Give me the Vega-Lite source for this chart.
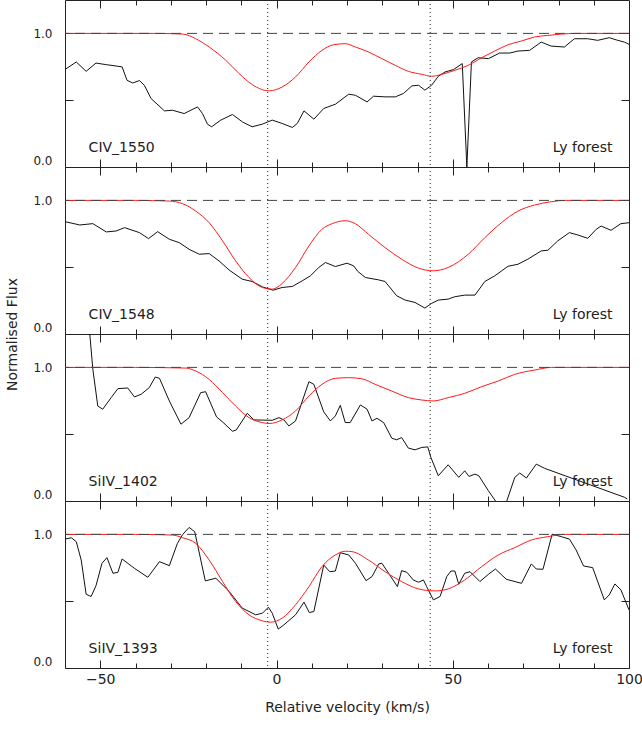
{
  "$schema": "https://vega.github.io/schema/vega-lite/v6.json",
  "padding": {"left": 4, "top": -1, "right": 2, "bottom": 5},
  "spacing": 0,
  "bounds": "flush",
  "config": {
    "view": {"stroke": "#222", "strokeWidth": 1},
    "axis": {"domain": false, "grid": false, "labelFont": "DejaVu Sans", "titleFont": "DejaVu Sans", "labelColor": "#222", "titleColor": "#222", "tickColor": "#222", "titleFontWeight": "normal", "tickWidth": 1}
  },
  "datasets": {
    "ref": [{"flux": 1.0}],
    "components": [{"velocity": -2.5}, {"velocity": 43.6}],
    "labels": [
      {"panel": "CIV_1550", "ion": "CIV_1550", "region": "Ly forest"},
      {"panel": "CIV_1548", "ion": "CIV_1548", "region": "Ly forest"},
      {"panel": "SiIV_1402", "ion": "SiIV_1402", "region": "Ly forest"},
      {"panel": "SiIV_1393", "ion": "SiIV_1393", "region": "Ly forest"}
    ],
    "spectra": [
      {"panel":"CIV_1550","series":"obs","velocity":-60,"flux":0.73},
      {"panel":"CIV_1550","series":"obs","velocity":-56.8,"flux":0.786},
      {"panel":"CIV_1550","series":"obs","velocity":-54.0,"flux":0.716},
      {"panel":"CIV_1550","series":"obs","velocity":-51.2,"flux":0.778},
      {"panel":"CIV_1550","series":"obs","velocity":-48.3,"flux":0.766},
      {"panel":"CIV_1550","series":"obs","velocity":-45.5,"flux":0.756},
      {"panel":"CIV_1550","series":"obs","velocity":-43.8,"flux":0.749},
      {"panel":"CIV_1550","series":"obs","velocity":-42.4,"flux":0.649},
      {"panel":"CIV_1550","series":"obs","velocity":-40.8,"flux":0.629},
      {"panel":"CIV_1550","series":"obs","velocity":-38.9,"flux":0.647},
      {"panel":"CIV_1550","series":"obs","velocity":-37.5,"flux":0.612},
      {"panel":"CIV_1550","series":"obs","velocity":-35.6,"flux":0.513},
      {"panel":"CIV_1550","series":"obs","velocity":-31.8,"flux":0.42},
      {"panel":"CIV_1550","series":"obs","velocity":-29.5,"flux":0.425},
      {"panel":"CIV_1550","series":"obs","velocity":-26.2,"flux":0.4},
      {"panel":"CIV_1550","series":"obs","velocity":-22.4,"flux":0.45},
      {"panel":"CIV_1550","series":"obs","velocity":-21.0,"flux":0.4},
      {"panel":"CIV_1550","series":"obs","velocity":-19.6,"flux":0.321},
      {"panel":"CIV_1550","series":"obs","velocity":-18.4,"flux":0.301},
      {"panel":"CIV_1550","series":"obs","velocity":-15.8,"flux":0.351},
      {"panel":"CIV_1550","series":"obs","velocity":-12.5,"flux":0.393},
      {"panel":"CIV_1550","series":"obs","velocity":-9.7,"flux":0.338},
      {"panel":"CIV_1550","series":"obs","velocity":-6.9,"flux":0.301},
      {"panel":"CIV_1550","series":"obs","velocity":-4.0,"flux":0.321},
      {"panel":"CIV_1550","series":"obs","velocity":-1.2,"flux":0.351},
      {"panel":"CIV_1550","series":"obs","velocity":1.6,"flux":0.326},
      {"panel":"CIV_1550","series":"obs","velocity":4.5,"flux":0.296},
      {"panel":"CIV_1550","series":"obs","velocity":5.9,"flux":0.326},
      {"panel":"CIV_1550","series":"obs","velocity":7.8,"flux":0.42},
      {"panel":"CIV_1550","series":"obs","velocity":10.6,"flux":0.358},
      {"panel":"CIV_1550","series":"obs","velocity":13.4,"flux":0.438},
      {"panel":"CIV_1550","series":"obs","velocity":16.7,"flux":0.47},
      {"panel":"CIV_1550","series":"obs","velocity":20.5,"flux":0.545},
      {"panel":"CIV_1550","series":"obs","velocity":22.4,"flux":0.537},
      {"panel":"CIV_1550","series":"obs","velocity":25.7,"flux":0.487},
      {"panel":"CIV_1550","series":"obs","velocity":27.5,"flux":0.53},
      {"panel":"CIV_1550","series":"obs","velocity":30.8,"flux":0.525},
      {"panel":"CIV_1550","series":"obs","velocity":33.7,"flux":0.525},
      {"panel":"CIV_1550","series":"obs","velocity":36.0,"flux":0.55},
      {"panel":"CIV_1550","series":"obs","velocity":38.4,"flux":0.607},
      {"panel":"CIV_1550","series":"obs","velocity":40.3,"flux":0.612},
      {"panel":"CIV_1550","series":"obs","velocity":42.1,"flux":0.575},
      {"panel":"CIV_1550","series":"obs","velocity":44.0,"flux":0.612},
      {"panel":"CIV_1550","series":"obs","velocity":45.9,"flux":0.679},
      {"panel":"CIV_1550","series":"obs","velocity":47.8,"flux":0.711},
      {"panel":"CIV_1550","series":"obs","velocity":50.2,"flux":0.729},
      {"panel":"CIV_1550","series":"obs","velocity":52.7,"flux":0.774},
      {"panel":"CIV_1550","series":"obs","velocity":54.0,"flux":0.0},
      {"panel":"CIV_1550","series":"obs","velocity":55.3,"flux":0.786},
      {"panel":"CIV_1550","series":"obs","velocity":57.2,"flux":0.818},
      {"panel":"CIV_1550","series":"obs","velocity":60.1,"flux":0.811},
      {"panel":"CIV_1550","series":"obs","velocity":63.3,"flux":0.853},
      {"panel":"CIV_1550","series":"obs","velocity":66.2,"flux":0.853},
      {"panel":"CIV_1550","series":"obs","velocity":68.5,"flux":0.868},
      {"panel":"CIV_1550","series":"obs","velocity":71.8,"flux":0.873},
      {"panel":"CIV_1550","series":"obs","velocity":75.1,"flux":0.935},
      {"panel":"CIV_1550","series":"obs","velocity":77.9,"flux":0.905},
      {"panel":"CIV_1550","series":"obs","velocity":81.7,"flux":0.898},
      {"panel":"CIV_1550","series":"obs","velocity":84.5,"flux":0.96},
      {"panel":"CIV_1550","series":"obs","velocity":88.3,"flux":0.96},
      {"panel":"CIV_1550","series":"obs","velocity":91.1,"flux":0.948},
      {"panel":"CIV_1550","series":"obs","velocity":94.4,"flux":0.968},
      {"panel":"CIV_1550","series":"obs","velocity":96.8,"flux":0.948},
      {"panel":"CIV_1550","series":"obs","velocity":98.7,"flux":0.935},
      {"panel":"CIV_1550","series":"obs","velocity":100,"flux":0.918},
      {"panel":"CIV_1550","series":"model","velocity":-60,"flux":1.0},
      {"panel":"CIV_1550","series":"model","velocity":-45,"flux":1.0},
      {"panel":"CIV_1550","series":"model","velocity":-35,"flux":1.0},
      {"panel":"CIV_1550","series":"model","velocity":-26.6,"flux":0.995},
      {"panel":"CIV_1550","series":"model","velocity":-22.9,"flux":0.96},
      {"panel":"CIV_1550","series":"model","velocity":-19.1,"flux":0.898},
      {"panel":"CIV_1550","series":"model","velocity":-14.4,"flux":0.799},
      {"panel":"CIV_1550","series":"model","velocity":-10.6,"flux":0.699},
      {"panel":"CIV_1550","series":"model","velocity":-6.9,"flux":0.617},
      {"panel":"CIV_1550","series":"model","velocity":-2.1,"flux":0.57},
      {"panel":"CIV_1550","series":"model","velocity":1.6,"flux":0.599},
      {"panel":"CIV_1550","series":"model","velocity":5.4,"flux":0.674},
      {"panel":"CIV_1550","series":"model","velocity":9.2,"flux":0.786},
      {"panel":"CIV_1550","series":"model","velocity":12.9,"flux":0.873},
      {"panel":"CIV_1550","series":"model","velocity":16.2,"flux":0.915},
      {"panel":"CIV_1550","series":"model","velocity":19.5,"flux":0.923},
      {"panel":"CIV_1550","series":"model","velocity":22.4,"flux":0.898},
      {"panel":"CIV_1550","series":"model","velocity":26.1,"flux":0.861},
      {"panel":"CIV_1550","series":"model","velocity":29.9,"flux":0.811},
      {"panel":"CIV_1550","series":"model","velocity":33.7,"flux":0.761},
      {"panel":"CIV_1550","series":"model","velocity":37.4,"flux":0.716},
      {"panel":"CIV_1550","series":"model","velocity":41.2,"flux":0.694},
      {"panel":"CIV_1550","series":"model","velocity":44.0,"flux":0.679},
      {"panel":"CIV_1550","series":"model","velocity":46.9,"flux":0.694},
      {"panel":"CIV_1550","series":"model","velocity":50.6,"flux":0.724},
      {"panel":"CIV_1550","series":"model","velocity":54.4,"flux":0.761},
      {"panel":"CIV_1550","series":"model","velocity":58.2,"flux":0.818},
      {"panel":"CIV_1550","series":"model","velocity":61.9,"flux":0.868},
      {"panel":"CIV_1550","series":"model","velocity":65.7,"flux":0.915},
      {"panel":"CIV_1550","series":"model","velocity":69.5,"flux":0.943},
      {"panel":"CIV_1550","series":"model","velocity":73.2,"flux":0.973},
      {"panel":"CIV_1550","series":"model","velocity":77.0,"flux":0.985},
      {"panel":"CIV_1550","series":"model","velocity":80.8,"flux":0.995},
      {"panel":"CIV_1550","series":"model","velocity":85,"flux":1.0},
      {"panel":"CIV_1550","series":"model","velocity":100,"flux":1.0},

      {"panel":"CIV_1548","series":"obs","velocity":-60,"flux":0.841},
      {"panel":"CIV_1548","series":"obs","velocity":-55.8,"flux":0.816},
      {"panel":"CIV_1548","series":"obs","velocity":-52.1,"flux":0.826},
      {"panel":"CIV_1548","series":"obs","velocity":-48.3,"flux":0.764},
      {"panel":"CIV_1548","series":"obs","velocity":-45.5,"flux":0.771},
      {"panel":"CIV_1548","series":"obs","velocity":-43.1,"flux":0.796},
      {"panel":"CIV_1548","series":"obs","velocity":-38.9,"flux":0.759},
      {"panel":"CIV_1548","series":"obs","velocity":-36.3,"flux":0.714},
      {"panel":"CIV_1548","series":"obs","velocity":-33.7,"flux":0.766},
      {"panel":"CIV_1548","series":"obs","velocity":-30.4,"flux":0.709},
      {"panel":"CIV_1548","series":"obs","velocity":-27.6,"flux":0.684},
      {"panel":"CIV_1548","series":"obs","velocity":-24.8,"flux":0.634},
      {"panel":"CIV_1548","series":"obs","velocity":-21.9,"flux":0.597},
      {"panel":"CIV_1548","series":"obs","velocity":-19.1,"flux":0.602},
      {"panel":"CIV_1548","series":"obs","velocity":-16.3,"flux":0.547},
      {"panel":"CIV_1548","series":"obs","velocity":-13.4,"flux":0.478},
      {"panel":"CIV_1548","series":"obs","velocity":-9.7,"flux":0.41},
      {"panel":"CIV_1548","series":"obs","velocity":-6.9,"flux":0.393},
      {"panel":"CIV_1548","series":"obs","velocity":-4.0,"flux":0.353},
      {"panel":"CIV_1548","series":"obs","velocity":-1.0,"flux":0.328},
      {"panel":"CIV_1548","series":"obs","velocity":1.6,"flux":0.348},
      {"panel":"CIV_1548","series":"obs","velocity":4.5,"flux":0.356},
      {"panel":"CIV_1548","series":"obs","velocity":7.3,"flux":0.398},
      {"panel":"CIV_1548","series":"obs","velocity":9.6,"flux":0.435},
      {"panel":"CIV_1548","series":"obs","velocity":12.0,"flux":0.498},
      {"panel":"CIV_1548","series":"obs","velocity":13.9,"flux":0.535},
      {"panel":"CIV_1548","series":"obs","velocity":16.7,"flux":0.505},
      {"panel":"CIV_1548","series":"obs","velocity":20.0,"flux":0.53},
      {"panel":"CIV_1548","series":"obs","velocity":21.9,"flux":0.51},
      {"panel":"CIV_1548","series":"obs","velocity":23.0,"flux":0.47},
      {"panel":"CIV_1548","series":"obs","velocity":25.2,"flux":0.423},
      {"panel":"CIV_1548","series":"obs","velocity":29.0,"flux":0.405},
      {"panel":"CIV_1548","series":"obs","velocity":30.8,"flux":0.393},
      {"panel":"CIV_1548","series":"obs","velocity":34.1,"flux":0.286},
      {"panel":"CIV_1548","series":"obs","velocity":36.5,"flux":0.254},
      {"panel":"CIV_1548","series":"obs","velocity":39.3,"flux":0.236},
      {"panel":"CIV_1548","series":"obs","velocity":42.1,"flux":0.194},
      {"panel":"CIV_1548","series":"obs","velocity":44.0,"flux":0.229},
      {"panel":"CIV_1548","series":"obs","velocity":45.9,"flux":0.254},
      {"panel":"CIV_1548","series":"obs","velocity":48.7,"flux":0.261},
      {"panel":"CIV_1548","series":"obs","velocity":50.6,"flux":0.279},
      {"panel":"CIV_1548","series":"obs","velocity":53.4,"flux":0.291},
      {"panel":"CIV_1548","series":"obs","velocity":56.3,"flux":0.291},
      {"panel":"CIV_1548","series":"obs","velocity":59.1,"flux":0.393},
      {"panel":"CIV_1548","series":"obs","velocity":61.9,"flux":0.435},
      {"panel":"CIV_1548","series":"obs","velocity":65.7,"flux":0.507},
      {"panel":"CIV_1548","series":"obs","velocity":68.5,"flux":0.522},
      {"panel":"CIV_1548","series":"obs","velocity":71.3,"flux":0.56},
      {"panel":"CIV_1548","series":"obs","velocity":75.1,"flux":0.622},
      {"panel":"CIV_1548","series":"obs","velocity":77.0,"flux":0.627},
      {"panel":"CIV_1548","series":"obs","velocity":79.8,"flux":0.697},
      {"panel":"CIV_1548","series":"obs","velocity":83.1,"flux":0.759},
      {"panel":"CIV_1548","series":"obs","velocity":85.5,"flux":0.741},
      {"panel":"CIV_1548","series":"obs","velocity":88.3,"flux":0.716},
      {"panel":"CIV_1548","series":"obs","velocity":90.7,"flux":0.784},
      {"panel":"CIV_1548","series":"obs","velocity":92.1,"flux":0.808},
      {"panel":"CIV_1548","series":"obs","velocity":94.9,"flux":0.776},
      {"panel":"CIV_1548","series":"obs","velocity":97.7,"flux":0.826},
      {"panel":"CIV_1548","series":"obs","velocity":100,"flux":0.833},
      {"panel":"CIV_1548","series":"model","velocity":-60,"flux":1.0},
      {"panel":"CIV_1548","series":"model","velocity":-40,"flux":1.0},
      {"panel":"CIV_1548","series":"model","velocity":-30.4,"flux":0.995},
      {"panel":"CIV_1548","series":"model","velocity":-26.6,"flux":0.975},
      {"panel":"CIV_1548","series":"model","velocity":-22.9,"flux":0.92},
      {"panel":"CIV_1548","series":"model","velocity":-19.1,"flux":0.833},
      {"panel":"CIV_1548","series":"model","velocity":-15.3,"flux":0.697},
      {"panel":"CIV_1548","series":"model","velocity":-11.6,"flux":0.547},
      {"panel":"CIV_1548","series":"model","velocity":-7.8,"flux":0.423},
      {"panel":"CIV_1548","series":"model","velocity":-4.0,"flux":0.348},
      {"panel":"CIV_1548","series":"model","velocity":-1.2,"flux":0.336},
      {"panel":"CIV_1548","series":"model","velocity":1.6,"flux":0.378},
      {"panel":"CIV_1548","series":"model","velocity":5.4,"flux":0.498},
      {"panel":"CIV_1548","series":"model","velocity":9.2,"flux":0.659},
      {"panel":"CIV_1548","series":"model","velocity":12.9,"flux":0.784},
      {"panel":"CIV_1548","series":"model","velocity":15.8,"flux":0.826},
      {"panel":"CIV_1548","series":"model","velocity":19.5,"flux":0.848},
      {"panel":"CIV_1548","series":"model","velocity":22.4,"flux":0.825},
      {"panel":"CIV_1548","series":"model","velocity":26.1,"flux":0.746},
      {"panel":"CIV_1548","series":"model","velocity":30.8,"flux":0.647},
      {"panel":"CIV_1548","series":"model","velocity":35.5,"flux":0.56},
      {"panel":"CIV_1548","series":"model","velocity":40.3,"flux":0.493},
      {"panel":"CIV_1548","series":"model","velocity":44.5,"flux":0.473},
      {"panel":"CIV_1548","series":"model","velocity":48.7,"flux":0.498},
      {"panel":"CIV_1548","series":"model","velocity":54.4,"flux":0.597},
      {"panel":"CIV_1548","series":"model","velocity":59.1,"flux":0.721},
      {"panel":"CIV_1548","series":"model","velocity":63.8,"flux":0.833},
      {"panel":"CIV_1548","series":"model","velocity":68.5,"flux":0.92},
      {"panel":"CIV_1548","series":"model","velocity":73.2,"flux":0.965},
      {"panel":"CIV_1548","series":"model","velocity":77.9,"flux":0.99},
      {"panel":"CIV_1548","series":"model","velocity":82,"flux":1.0},
      {"panel":"CIV_1548","series":"model","velocity":100,"flux":1.0},

      {"panel":"SiIV_1402","series":"obs","velocity":-53.3,"flux":1.35},
      {"panel":"SiIV_1402","series":"obs","velocity":-52.1,"flux":0.985},
      {"panel":"SiIV_1402","series":"obs","velocity":-50.7,"flux":0.711},
      {"panel":"SiIV_1402","series":"obs","velocity":-49.3,"flux":0.687},
      {"panel":"SiIV_1402","series":"obs","velocity":-46.9,"flux":0.774},
      {"panel":"SiIV_1402","series":"obs","velocity":-45.0,"flux":0.841},
      {"panel":"SiIV_1402","series":"obs","velocity":-42.2,"flux":0.846},
      {"panel":"SiIV_1402","series":"obs","velocity":-40.3,"flux":0.779},
      {"panel":"SiIV_1402","series":"obs","velocity":-38.4,"flux":0.799},
      {"panel":"SiIV_1402","series":"obs","velocity":-36.1,"flux":0.848},
      {"panel":"SiIV_1402","series":"obs","velocity":-34.4,"flux":0.928},
      {"panel":"SiIV_1402","series":"obs","velocity":-33.2,"flux":0.918},
      {"panel":"SiIV_1402","series":"obs","velocity":-30.4,"flux":0.749},
      {"panel":"SiIV_1402","series":"obs","velocity":-27.1,"flux":0.575},
      {"panel":"SiIV_1402","series":"obs","velocity":-24.8,"flux":0.624},
      {"panel":"SiIV_1402","series":"obs","velocity":-21.5,"flux":0.811},
      {"panel":"SiIV_1402","series":"obs","velocity":-20.1,"flux":0.818},
      {"panel":"SiIV_1402","series":"obs","velocity":-17.0,"flux":0.629},
      {"panel":"SiIV_1402","series":"obs","velocity":-15.3,"flux":0.592},
      {"panel":"SiIV_1402","series":"obs","velocity":-12.5,"flux":0.522},
      {"panel":"SiIV_1402","series":"obs","velocity":-11.4,"flux":0.532},
      {"panel":"SiIV_1402","series":"obs","velocity":-8.3,"flux":0.657},
      {"panel":"SiIV_1402","series":"obs","velocity":-6.4,"flux":0.607},
      {"panel":"SiIV_1402","series":"obs","velocity":-1.2,"flux":0.604},
      {"panel":"SiIV_1402","series":"obs","velocity":0.7,"flux":0.624},
      {"panel":"SiIV_1402","series":"obs","velocity":2.1,"flux":0.607},
      {"panel":"SiIV_1402","series":"obs","velocity":3.5,"flux":0.562},
      {"panel":"SiIV_1402","series":"obs","velocity":5.4,"flux":0.599},
      {"panel":"SiIV_1402","series":"obs","velocity":9.2,"flux":0.893},
      {"panel":"SiIV_1402","series":"obs","velocity":10.6,"flux":0.873},
      {"panel":"SiIV_1402","series":"obs","velocity":13.4,"flux":0.667},
      {"panel":"SiIV_1402","series":"obs","velocity":15.3,"flux":0.599},
      {"panel":"SiIV_1402","series":"obs","velocity":16.7,"flux":0.637},
      {"panel":"SiIV_1402","series":"obs","velocity":18.1,"flux":0.716},
      {"panel":"SiIV_1402","series":"obs","velocity":19.5,"flux":0.587},
      {"panel":"SiIV_1402","series":"obs","velocity":20.9,"flux":0.587},
      {"panel":"SiIV_1402","series":"obs","velocity":23.8,"flux":0.719},
      {"panel":"SiIV_1402","series":"obs","velocity":25.7,"flux":0.687},
      {"panel":"SiIV_1402","series":"obs","velocity":27.1,"flux":0.599},
      {"panel":"SiIV_1402","series":"obs","velocity":28.5,"flux":0.619},
      {"panel":"SiIV_1402","series":"obs","velocity":30.4,"flux":0.587},
      {"panel":"SiIV_1402","series":"obs","velocity":32.7,"flux":0.47},
      {"panel":"SiIV_1402","series":"obs","velocity":34.1,"flux":0.458},
      {"panel":"SiIV_1402","series":"obs","velocity":35.5,"flux":0.475},
      {"panel":"SiIV_1402","series":"obs","velocity":37.4,"flux":0.396},
      {"panel":"SiIV_1402","series":"obs","velocity":39.3,"flux":0.383},
      {"panel":"SiIV_1402","series":"obs","velocity":41.2,"flux":0.401},
      {"panel":"SiIV_1402","series":"obs","velocity":42.9,"flux":0.405},
      {"panel":"SiIV_1402","series":"obs","velocity":43.8,"flux":0.326},
      {"panel":"SiIV_1402","series":"obs","velocity":45.9,"flux":0.189},
      {"panel":"SiIV_1402","series":"obs","velocity":48.7,"flux":0.271},
      {"panel":"SiIV_1402","series":"obs","velocity":51.7,"flux":0.177},
      {"panel":"SiIV_1402","series":"obs","velocity":53.4,"flux":0.226},
      {"panel":"SiIV_1402","series":"obs","velocity":54.6,"flux":0.184},
      {"panel":"SiIV_1402","series":"obs","velocity":56.3,"flux":0.201},
      {"panel":"SiIV_1402","series":"obs","velocity":57.4,"flux":0.189},
      {"panel":"SiIV_1402","series":"obs","velocity":60.1,"flux":0.077},
      {"panel":"SiIV_1402","series":"obs","velocity":62.4,"flux":-0.01},
      {"panel":"SiIV_1402","series":"obs","velocity":65.2,"flux":-0.01},
      {"panel":"SiIV_1402","series":"obs","velocity":67.6,"flux":0.177},
      {"panel":"SiIV_1402","series":"obs","velocity":69.0,"flux":0.209},
      {"panel":"SiIV_1402","series":"obs","velocity":70.9,"flux":0.172},
      {"panel":"SiIV_1402","series":"obs","velocity":73.7,"flux":0.276},
      {"panel":"SiIV_1402","series":"obs","velocity":76.1,"flux":0.244},
      {"panel":"SiIV_1402","series":"obs","velocity":98.7,"flux":0.028},
      {"panel":"SiIV_1402","series":"obs","velocity":99.5,"flux":0.015},
      {"panel":"SiIV_1402","series":"model","velocity":-60,"flux":1.0},
      {"panel":"SiIV_1402","series":"model","velocity":-40,"flux":1.0},
      {"panel":"SiIV_1402","series":"model","velocity":-25.8,"flux":0.995},
      {"panel":"SiIV_1402","series":"model","velocity":-22.9,"flux":0.973},
      {"panel":"SiIV_1402","series":"model","velocity":-19.1,"flux":0.91},
      {"panel":"SiIV_1402","series":"model","velocity":-15.3,"flux":0.811},
      {"panel":"SiIV_1402","series":"model","velocity":-11.6,"flux":0.711},
      {"panel":"SiIV_1402","series":"model","velocity":-7.8,"flux":0.624},
      {"panel":"SiIV_1402","series":"model","velocity":-4.0,"flux":0.587},
      {"panel":"SiIV_1402","series":"model","velocity":-2.1,"flux":0.58},
      {"panel":"SiIV_1402","series":"model","velocity":1.6,"flux":0.607},
      {"panel":"SiIV_1402","series":"model","velocity":5.4,"flux":0.674},
      {"panel":"SiIV_1402","series":"model","velocity":9.2,"flux":0.786},
      {"panel":"SiIV_1402","series":"model","velocity":12.9,"flux":0.873},
      {"panel":"SiIV_1402","series":"model","velocity":16.7,"flux":0.918},
      {"panel":"SiIV_1402","series":"model","velocity":20.5,"flux":0.923},
      {"panel":"SiIV_1402","series":"model","velocity":24.2,"flux":0.915},
      {"panel":"SiIV_1402","series":"model","velocity":28.0,"flux":0.873},
      {"panel":"SiIV_1402","series":"model","velocity":32.7,"flux":0.823},
      {"panel":"SiIV_1402","series":"model","velocity":37.4,"flux":0.774},
      {"panel":"SiIV_1402","series":"model","velocity":41.2,"flux":0.756},
      {"panel":"SiIV_1402","series":"model","velocity":44.5,"flux":0.749},
      {"panel":"SiIV_1402","series":"model","velocity":48.7,"flux":0.774},
      {"panel":"SiIV_1402","series":"model","velocity":53.4,"flux":0.806},
      {"panel":"SiIV_1402","series":"model","velocity":58.2,"flux":0.856},
      {"panel":"SiIV_1402","series":"model","velocity":62.9,"flux":0.898},
      {"panel":"SiIV_1402","series":"model","velocity":67.6,"flux":0.948},
      {"panel":"SiIV_1402","series":"model","velocity":73.2,"flux":0.98},
      {"panel":"SiIV_1402","series":"model","velocity":78,"flux":1.0},
      {"panel":"SiIV_1402","series":"model","velocity":100,"flux":1.0},

      {"panel":"SiIV_1393","series":"obs","velocity":-60,"flux":0.965},
      {"panel":"SiIV_1393","series":"obs","velocity":-58.2,"flux":0.975},
      {"panel":"SiIV_1393","series":"obs","velocity":-56.8,"flux":0.945},
      {"panel":"SiIV_1393","series":"obs","velocity":-55.4,"flux":0.808},
      {"panel":"SiIV_1393","series":"obs","velocity":-54.0,"flux":0.552},
      {"panel":"SiIV_1393","series":"obs","velocity":-52.6,"flux":0.535},
      {"panel":"SiIV_1393","series":"obs","velocity":-51.2,"flux":0.617},
      {"panel":"SiIV_1393","series":"obs","velocity":-49.5,"flux":0.784},
      {"panel":"SiIV_1393","series":"obs","velocity":-48.1,"flux":0.826},
      {"panel":"SiIV_1393","series":"obs","velocity":-46.4,"flux":0.709},
      {"panel":"SiIV_1393","series":"obs","velocity":-45.0,"flux":0.716},
      {"panel":"SiIV_1393","series":"obs","velocity":-43.8,"flux":0.816},
      {"panel":"SiIV_1393","series":"obs","velocity":-40.3,"flux":0.746},
      {"panel":"SiIV_1393","series":"obs","velocity":-36.5,"flux":0.679},
      {"panel":"SiIV_1393","series":"obs","velocity":-33.2,"flux":0.796},
      {"panel":"SiIV_1393","series":"obs","velocity":-30.4,"flux":0.766},
      {"panel":"SiIV_1393","series":"obs","velocity":-28.1,"flux":0.933},
      {"panel":"SiIV_1393","series":"obs","velocity":-26.6,"flux":1.0},
      {"panel":"SiIV_1393","series":"obs","velocity":-24.8,"flux":1.052},
      {"panel":"SiIV_1393","series":"obs","velocity":-23.2,"flux":1.02},
      {"panel":"SiIV_1393","series":"obs","velocity":-20.2,"flux":0.652},
      {"panel":"SiIV_1393","series":"obs","velocity":-17.2,"flux":0.672},
      {"panel":"SiIV_1393","series":"obs","velocity":-13.4,"flux":0.572},
      {"panel":"SiIV_1393","series":"obs","velocity":-9.7,"flux":0.448},
      {"panel":"SiIV_1393","series":"obs","velocity":-5.9,"flux":0.398},
      {"panel":"SiIV_1393","series":"obs","velocity":-4.0,"flux":0.41},
      {"panel":"SiIV_1393","series":"obs","velocity":-2.3,"flux":0.455},
      {"panel":"SiIV_1393","series":"obs","velocity":-1.2,"flux":0.41},
      {"panel":"SiIV_1393","series":"obs","velocity":0.5,"flux":0.291},
      {"panel":"SiIV_1393","series":"obs","velocity":2.1,"flux":0.323},
      {"panel":"SiIV_1393","series":"obs","velocity":5.4,"flux":0.398},
      {"panel":"SiIV_1393","series":"obs","velocity":7.8,"flux":0.493},
      {"panel":"SiIV_1393","series":"obs","velocity":9.3,"flux":0.415},
      {"panel":"SiIV_1393","series":"obs","velocity":10.6,"flux":0.423},
      {"panel":"SiIV_1393","series":"obs","velocity":13.4,"flux":0.771},
      {"panel":"SiIV_1393","series":"obs","velocity":15.1,"flux":0.721},
      {"panel":"SiIV_1393","series":"obs","velocity":16.7,"flux":0.726},
      {"panel":"SiIV_1393","series":"obs","velocity":18.1,"flux":0.863},
      {"panel":"SiIV_1393","series":"obs","velocity":20.5,"flux":0.846},
      {"panel":"SiIV_1393","series":"obs","velocity":22.4,"flux":0.784},
      {"panel":"SiIV_1393","series":"obs","velocity":25.4,"flux":0.654},
      {"panel":"SiIV_1393","series":"obs","velocity":27.1,"flux":0.684},
      {"panel":"SiIV_1393","series":"obs","velocity":29.0,"flux":0.779},
      {"panel":"SiIV_1393","series":"obs","velocity":29.9,"flux":0.784},
      {"panel":"SiIV_1393","series":"obs","velocity":31.8,"flux":0.709},
      {"panel":"SiIV_1393","series":"obs","velocity":34.3,"flux":0.609},
      {"panel":"SiIV_1393","series":"obs","velocity":35.5,"flux":0.729},
      {"panel":"SiIV_1393","series":"obs","velocity":37.0,"flux":0.716},
      {"panel":"SiIV_1393","series":"obs","velocity":38.8,"flux":0.659},
      {"panel":"SiIV_1393","series":"obs","velocity":40.3,"flux":0.642},
      {"panel":"SiIV_1393","series":"obs","velocity":41.7,"flux":0.659},
      {"panel":"SiIV_1393","series":"obs","velocity":42.6,"flux":0.609},
      {"panel":"SiIV_1393","series":"obs","velocity":44.5,"flux":0.51},
      {"panel":"SiIV_1393","series":"obs","velocity":46.4,"flux":0.535},
      {"panel":"SiIV_1393","series":"obs","velocity":48.3,"flux":0.684},
      {"panel":"SiIV_1393","series":"obs","velocity":49.5,"flux":0.726},
      {"panel":"SiIV_1393","series":"obs","velocity":50.6,"flux":0.726},
      {"panel":"SiIV_1393","series":"obs","velocity":51.7,"flux":0.627},
      {"panel":"SiIV_1393","series":"obs","velocity":53.4,"flux":0.709},
      {"panel":"SiIV_1393","series":"obs","velocity":54.9,"flux":0.721},
      {"panel":"SiIV_1393","series":"obs","velocity":57.7,"flux":0.647},
      {"panel":"SiIV_1393","series":"obs","velocity":60.1,"flux":0.701},
      {"panel":"SiIV_1393","series":"obs","velocity":62.1,"flux":0.741},
      {"panel":"SiIV_1393","series":"obs","velocity":65.2,"flux":0.664},
      {"panel":"SiIV_1393","series":"obs","velocity":69.5,"flux":0.634},
      {"panel":"SiIV_1393","series":"obs","velocity":72.3,"flux":0.779},
      {"panel":"SiIV_1393","series":"obs","velocity":73.7,"flux":0.741},
      {"panel":"SiIV_1393","series":"obs","velocity":75.6,"flux":0.739},
      {"panel":"SiIV_1393","series":"obs","velocity":78.2,"flux":1.002},
      {"panel":"SiIV_1393","series":"obs","velocity":80.8,"flux":0.983},
      {"panel":"SiIV_1393","series":"obs","velocity":83.1,"flux":0.965},
      {"panel":"SiIV_1393","series":"obs","velocity":85.0,"flux":0.883},
      {"panel":"SiIV_1393","series":"obs","velocity":87.1,"flux":0.764},
      {"panel":"SiIV_1393","series":"obs","velocity":89.7,"flux":0.751},
      {"panel":"SiIV_1393","series":"obs","velocity":93.0,"flux":0.51},
      {"panel":"SiIV_1393","series":"obs","velocity":94.4,"flux":0.547},
      {"panel":"SiIV_1393","series":"obs","velocity":96.0,"flux":0.629},
      {"panel":"SiIV_1393","series":"obs","velocity":97.7,"flux":0.585},
      {"panel":"SiIV_1393","series":"obs","velocity":100,"flux":0.435},
      {"panel":"SiIV_1393","series":"model","velocity":-60,"flux":1.0},
      {"panel":"SiIV_1393","series":"model","velocity":-40,"flux":1.0},
      {"panel":"SiIV_1393","series":"model","velocity":-29.5,"flux":0.995},
      {"panel":"SiIV_1393","series":"model","velocity":-26.6,"flux":0.975},
      {"panel":"SiIV_1393","series":"model","velocity":-22.9,"flux":0.933},
      {"panel":"SiIV_1393","series":"model","velocity":-19.1,"flux":0.808},
      {"panel":"SiIV_1393","series":"model","velocity":-15.3,"flux":0.647},
      {"panel":"SiIV_1393","series":"model","velocity":-11.6,"flux":0.498},
      {"panel":"SiIV_1393","series":"model","velocity":-7.8,"flux":0.398},
      {"panel":"SiIV_1393","series":"model","velocity":-4.0,"flux":0.353},
      {"panel":"SiIV_1393","series":"model","velocity":-1.7,"flux":0.343},
      {"panel":"SiIV_1393","series":"model","velocity":1.6,"flux":0.373},
      {"panel":"SiIV_1393","series":"model","velocity":5.4,"flux":0.473},
      {"panel":"SiIV_1393","series":"model","velocity":9.2,"flux":0.609},
      {"panel":"SiIV_1393","series":"model","velocity":12.9,"flux":0.759},
      {"panel":"SiIV_1393","series":"model","velocity":16.7,"flux":0.846},
      {"panel":"SiIV_1393","series":"model","velocity":19.5,"flux":0.874},
      {"panel":"SiIV_1393","series":"model","velocity":21.4,"flux":0.871},
      {"panel":"SiIV_1393","series":"model","velocity":26.1,"flux":0.808},
      {"panel":"SiIV_1393","series":"model","velocity":30.8,"flux":0.721},
      {"panel":"SiIV_1393","series":"model","velocity":35.5,"flux":0.647},
      {"panel":"SiIV_1393","series":"model","velocity":40.3,"flux":0.592},
      {"panel":"SiIV_1393","series":"model","velocity":45.0,"flux":0.577},
      {"panel":"SiIV_1393","series":"model","velocity":48.7,"flux":0.592},
      {"panel":"SiIV_1393","series":"model","velocity":53.4,"flux":0.659},
      {"panel":"SiIV_1393","series":"model","velocity":58.2,"flux":0.759},
      {"panel":"SiIV_1393","series":"model","velocity":62.9,"flux":0.846},
      {"panel":"SiIV_1393","series":"model","velocity":67.6,"flux":0.901},
      {"panel":"SiIV_1393","series":"model","velocity":72.3,"flux":0.958},
      {"panel":"SiIV_1393","series":"model","velocity":77.0,"flux":0.983},
      {"panel":"SiIV_1393","series":"model","velocity":82,"flux":1.0},
      {"panel":"SiIV_1393","series":"model","velocity":100,"flux":1.0}
    ]
  },
  "vconcat": [
    {
      "width": 564, "height": 167,
      "resolve": {"axis": {"x": "independent", "y": "independent"}},
      "layer": [
        {"data": {"name": "spectra"}, "transform": [{"filter": "datum.panel === 'CIV_1550' && datum.series === 'obs'"}],
         "mark": {"type": "line", "color": "#111", "strokeWidth": 1, "clip": true},
         "encoding": {
           "x": {"field": "velocity", "type": "quantitative", "scale": {"domain": [-60, 100], "nice": false},
                 "axis": {"orient": "bottom", "values": [-50,-40,-30,-20,-10,0,10,20,30,40,50,60,70,80,90], "tickSize": {"condition": {"test": "datum.value % 50 === 0", "value": -8}, "value": -5}, "labels": false, "title": null}},
           "y": {"field": "flux", "type": "quantitative", "scale": {"domain": [0, 1.25], "nice": false, "zero": false},
                 "axis": {"orient": "left", "values": [0, 0.5, 1], "tickSize": -8, "labelExpr": "datum.value === 0.5 ? '' : format(datum.value, '.1f')", "labelFlush": true, "labelPadding": 21, "labelFontSize": 12, "title": null}}
         }},
        {"data": {"name": "spectra"}, "transform": [{"filter": "datum.panel === 'CIV_1550' && datum.series === 'model'"}],
         "mark": {"type": "line", "color": "#ff1a1a", "strokeWidth": 1, "clip": true, "interpolate": "monotone"},
         "encoding": {
           "x": {"field": "velocity", "type": "quantitative",
                 "axis": {"orient": "top", "values": [-50,-40,-30,-20,-10,0,10,20,30,40,50,60,70,80,90], "tickSize": {"condition": {"test": "datum.value % 50 === 0", "value": -8}, "value": -5}, "labels": false, "title": null}},
           "y": {"field": "flux", "type": "quantitative",
                 "axis": {"orient": "right", "values": [0, 0.5, 1], "tickSize": -8, "labels": false, "title": null}}
         }},
        {"data": {"name": "ref"}, "mark": {"type": "rule", "color": "#444", "strokeWidth": 1, "strokeDash": [10, 6]},
         "encoding": {"y": {"field": "flux", "type": "quantitative", "axis": null}}},
        {"data": {"name": "components"}, "mark": {"type": "rule", "color": "#222", "strokeWidth": 1, "strokeDash": [1, 3]},
         "encoding": {"x": {"field": "velocity", "type": "quantitative", "axis": null}}},
        {"data": {"name": "labels"}, "transform": [{"filter": "datum.panel === 'CIV_1550'"}],
         "mark": {"type": "text", "align": "left", "baseline": "alphabetic", "font": "DejaVu Sans", "fontSize": 14, "color": "#222"},
         "encoding": {"x": {"datum": -53.3, "type": "quantitative", "axis": null}, "y": {"datum": 0.11, "type": "quantitative", "axis": null}, "text": {"field": "ion"}}},
        {"data": {"name": "labels"}, "transform": [{"filter": "datum.panel === 'CIV_1550'"}],
         "mark": {"type": "text", "align": "right", "baseline": "alphabetic", "font": "DejaVu Sans", "fontSize": 14, "color": "#222"},
         "encoding": {"x": {"datum": 95.3, "type": "quantitative", "axis": null}, "y": {"datum": 0.11, "type": "quantitative", "axis": null}, "text": {"field": "region"}}}
      ]
    },
    {
      "width": 564, "height": 167,
      "resolve": {"axis": {"x": "independent", "y": "independent"}},
      "layer": [
        {"data": {"name": "spectra"}, "transform": [{"filter": "datum.panel === 'CIV_1548' && datum.series === 'obs'"}],
         "mark": {"type": "line", "color": "#111", "strokeWidth": 1, "clip": true},
         "encoding": {
           "x": {"field": "velocity", "type": "quantitative", "scale": {"domain": [-60, 100], "nice": false},
                 "axis": {"orient": "bottom", "values": [-50,-40,-30,-20,-10,0,10,20,30,40,50,60,70,80,90], "tickSize": {"condition": {"test": "datum.value % 50 === 0", "value": -8}, "value": -5}, "labels": false, "title": null}},
           "y": {"field": "flux", "type": "quantitative", "scale": {"domain": [0, 1.25], "nice": false, "zero": false},
                 "axis": {"orient": "left", "values": [0, 0.5, 1], "tickSize": -8, "labelExpr": "datum.value === 0.5 ? '' : format(datum.value, '.1f')", "labelFlush": true, "labelPadding": 21, "labelFontSize": 12, "title": null}}
         }},
        {"data": {"name": "spectra"}, "transform": [{"filter": "datum.panel === 'CIV_1548' && datum.series === 'model'"}],
         "mark": {"type": "line", "color": "#ff1a1a", "strokeWidth": 1, "clip": true, "interpolate": "monotone"},
         "encoding": {
           "x": {"field": "velocity", "type": "quantitative",
                 "axis": {"orient": "top", "values": [-50,-40,-30,-20,-10,0,10,20,30,40,50,60,70,80,90], "tickSize": {"condition": {"test": "datum.value % 50 === 0", "value": -8}, "value": -5}, "labels": false, "title": null}},
           "y": {"field": "flux", "type": "quantitative",
                 "axis": {"orient": "right", "values": [0, 0.5, 1], "tickSize": -8, "labels": false, "title": null}}
         }},
        {"data": {"name": "ref"}, "mark": {"type": "rule", "color": "#444", "strokeWidth": 1, "strokeDash": [10, 6]},
         "encoding": {"y": {"field": "flux", "type": "quantitative", "axis": null}}},
        {"data": {"name": "components"}, "mark": {"type": "rule", "color": "#222", "strokeWidth": 1, "strokeDash": [1, 3]},
         "encoding": {"x": {"field": "velocity", "type": "quantitative", "axis": null}}},
        {"data": {"name": "labels"}, "transform": [{"filter": "datum.panel === 'CIV_1548'"}],
         "mark": {"type": "text", "align": "left", "baseline": "alphabetic", "font": "DejaVu Sans", "fontSize": 14, "color": "#222"},
         "encoding": {"x": {"datum": -53.3, "type": "quantitative", "axis": null}, "y": {"datum": 0.11, "type": "quantitative", "axis": null}, "text": {"field": "ion"}}},
        {"data": {"name": "labels"}, "transform": [{"filter": "datum.panel === 'CIV_1548'"}],
         "mark": {"type": "text", "align": "right", "baseline": "alphabetic", "font": "DejaVu Sans", "fontSize": 14, "color": "#222"},
         "encoding": {"x": {"datum": 95.3, "type": "quantitative", "axis": null}, "y": {"datum": 0.11, "type": "quantitative", "axis": null}, "text": {"field": "region"}}}
      ]
    },
    {
      "width": 564, "height": 167,
      "resolve": {"axis": {"x": "independent", "y": "independent"}},
      "layer": [
        {"data": {"name": "spectra"}, "transform": [{"filter": "datum.panel === 'SiIV_1402' && datum.series === 'obs'"}],
         "mark": {"type": "line", "color": "#111", "strokeWidth": 1, "clip": true},
         "encoding": {
           "x": {"field": "velocity", "type": "quantitative", "scale": {"domain": [-60, 100], "nice": false},
                 "axis": {"orient": "bottom", "values": [-50,-40,-30,-20,-10,0,10,20,30,40,50,60,70,80,90], "tickSize": {"condition": {"test": "datum.value % 50 === 0", "value": -8}, "value": -5}, "labels": false, "title": null}},
           "y": {"field": "flux", "type": "quantitative", "scale": {"domain": [0, 1.25], "nice": false, "zero": false},
                 "axis": {"orient": "left", "values": [0, 0.5, 1], "tickSize": -8, "labelExpr": "datum.value === 0.5 ? '' : format(datum.value, '.1f')", "labelFlush": true, "labelPadding": 21, "labelFontSize": 12,
                          "title": "Normalised Flux", "titleFontSize": 14, "titleX": -46, "titleY": 0}}
         }},
        {"data": {"name": "spectra"}, "transform": [{"filter": "datum.panel === 'SiIV_1402' && datum.series === 'model'"}],
         "mark": {"type": "line", "color": "#ff1a1a", "strokeWidth": 1, "clip": true, "interpolate": "monotone"},
         "encoding": {
           "x": {"field": "velocity", "type": "quantitative",
                 "axis": {"orient": "top", "values": [-50,-40,-30,-20,-10,0,10,20,30,40,50,60,70,80,90], "tickSize": {"condition": {"test": "datum.value % 50 === 0", "value": -8}, "value": -5}, "labels": false, "title": null}},
           "y": {"field": "flux", "type": "quantitative",
                 "axis": {"orient": "right", "values": [0, 0.5, 1], "tickSize": -8, "labels": false, "title": null}}
         }},
        {"data": {"name": "ref"}, "mark": {"type": "rule", "color": "#444", "strokeWidth": 1, "strokeDash": [10, 6]},
         "encoding": {"y": {"field": "flux", "type": "quantitative", "axis": null}}},
        {"data": {"name": "components"}, "mark": {"type": "rule", "color": "#222", "strokeWidth": 1, "strokeDash": [1, 3]},
         "encoding": {"x": {"field": "velocity", "type": "quantitative", "axis": null}}},
        {"data": {"name": "labels"}, "transform": [{"filter": "datum.panel === 'SiIV_1402'"}],
         "mark": {"type": "text", "align": "left", "baseline": "alphabetic", "font": "DejaVu Sans", "fontSize": 14, "color": "#222"},
         "encoding": {"x": {"datum": -53.3, "type": "quantitative", "axis": null}, "y": {"datum": 0.11, "type": "quantitative", "axis": null}, "text": {"field": "ion"}}},
        {"data": {"name": "labels"}, "transform": [{"filter": "datum.panel === 'SiIV_1402'"}],
         "mark": {"type": "text", "align": "right", "baseline": "alphabetic", "font": "DejaVu Sans", "fontSize": 14, "color": "#222"},
         "encoding": {"x": {"datum": 95.3, "type": "quantitative", "axis": null}, "y": {"datum": 0.11, "type": "quantitative", "axis": null}, "text": {"field": "region"}}}
      ]
    },
    {
      "width": 564, "height": 167,
      "resolve": {"axis": {"x": "independent", "y": "independent"}},
      "layer": [
        {"data": {"name": "spectra"}, "transform": [{"filter": "datum.panel === 'SiIV_1393' && datum.series === 'obs'"}],
         "mark": {"type": "line", "color": "#111", "strokeWidth": 1, "clip": true},
         "encoding": {
           "x": {"field": "velocity", "type": "quantitative", "scale": {"domain": [-60, 100], "nice": false},
                 "axis": {"orient": "bottom", "values": [-50,-40,-30,-20,-10,0,10,20,30,40,50,60,70,80,90,100], "tickSize": {"condition": {"test": "datum.value % 50 === 0", "value": -8}, "value": -5},
                          "labelExpr": "datum.value % 50 === 0 ? datum.label : ''", "labelFontSize": 14, "labelPadding": 12, "labelFlush": false,
                          "title": "Relative velocity (km/s)", "titleFontSize": 14, "titlePadding": 14}},
           "y": {"field": "flux", "type": "quantitative", "scale": {"domain": [0, 1.25], "nice": false, "zero": false},
                 "axis": {"orient": "left", "values": [0, 0.5, 1], "tickSize": -8, "labelExpr": "datum.value === 0.5 ? '' : format(datum.value, '.1f')", "labelFlush": true, "labelPadding": 21, "labelFontSize": 12, "title": null}}
         }},
        {"data": {"name": "spectra"}, "transform": [{"filter": "datum.panel === 'SiIV_1393' && datum.series === 'model'"}],
         "mark": {"type": "line", "color": "#ff1a1a", "strokeWidth": 1, "clip": true, "interpolate": "monotone"},
         "encoding": {
           "x": {"field": "velocity", "type": "quantitative",
                 "axis": {"orient": "top", "values": [-50,-40,-30,-20,-10,0,10,20,30,40,50,60,70,80,90], "tickSize": {"condition": {"test": "datum.value % 50 === 0", "value": -8}, "value": -5}, "labels": false, "title": null}},
           "y": {"field": "flux", "type": "quantitative",
                 "axis": {"orient": "right", "values": [0, 0.5, 1], "tickSize": -8, "labels": false, "title": null}}
         }},
        {"data": {"name": "ref"}, "mark": {"type": "rule", "color": "#444", "strokeWidth": 1, "strokeDash": [10, 6]},
         "encoding": {"y": {"field": "flux", "type": "quantitative", "axis": null}}},
        {"data": {"name": "components"}, "mark": {"type": "rule", "color": "#222", "strokeWidth": 1, "strokeDash": [1, 3]},
         "encoding": {"x": {"field": "velocity", "type": "quantitative", "axis": null}}},
        {"data": {"name": "labels"}, "transform": [{"filter": "datum.panel === 'SiIV_1393'"}],
         "mark": {"type": "text", "align": "left", "baseline": "alphabetic", "font": "DejaVu Sans", "fontSize": 14, "color": "#222"},
         "encoding": {"x": {"datum": -53.3, "type": "quantitative", "axis": null}, "y": {"datum": 0.11, "type": "quantitative", "axis": null}, "text": {"field": "ion"}}},
        {"data": {"name": "labels"}, "transform": [{"filter": "datum.panel === 'SiIV_1393'"}],
         "mark": {"type": "text", "align": "right", "baseline": "alphabetic", "font": "DejaVu Sans", "fontSize": 14, "color": "#222"},
         "encoding": {"x": {"datum": 95.3, "type": "quantitative", "axis": null}, "y": {"datum": 0.11, "type": "quantitative", "axis": null}, "text": {"field": "region"}}}
      ]
    }
  ]
}
